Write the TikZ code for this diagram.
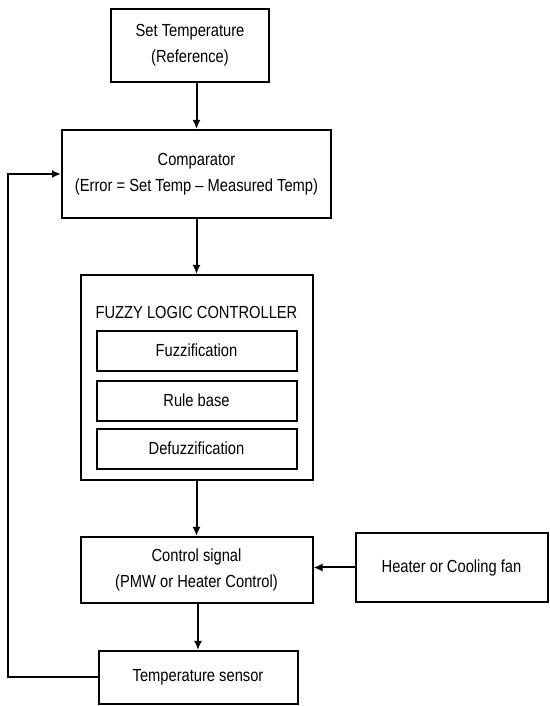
\documentclass[tikz,border=0pt]{standalone}
\usepackage{fontspec}
\setmainfont[FakeStretch=0.84]{Liberation Sans}
\usetikzlibrary{positioning, arrows.meta}

\begin{document}
\begin{tikzpicture}[
        x=1pt, y=1pt,
        font=\fontsize{17.5}{26}\selectfont,
        box/.style={draw, line width=2pt, align=center, inner sep=0pt},
        subbox/.style={box, minimum width=200pt, minimum height=40pt},
        arrow/.style={draw, line width=2pt, -{Latex[length=9pt, width=8pt]}}
    ]
    \useasboundingbox (0,0) rectangle (549,706);

    % Hauptkette
    \node (settemp) [box, minimum width=158pt, minimum height=73pt] at (190,660.5) {Set Temperature\\(Reference)};

    \node (comparator) [box, below=46pt of settemp, xshift=6.5pt, minimum width=269pt, minimum height=88pt] {Comparator\\(Error = Set Temp -- Measured Temp)};

    \node (flc) [box, below=55pt of comparator, minimum width=232pt, minimum height=205pt] {};
    \node (flctitle) [below=38pt of flc.north, anchor=center] {FUZZY LOGIC CONTROLLER};
    \node (fuzz) [subbox, below=8pt of flctitle] {Fuzzification};
    \node (rules) [subbox, below=8pt of fuzz] {Rule base};
    \node (defuzz) [subbox, below=6pt of rules] {Defuzzification};

    \node (control) [box, below=55pt of flc, minimum width=232pt, minimum height=66pt] {Control signal\\(PMW or Heater Control)};

    \node (heater) [box, right=41pt of control, yshift=2.5pt, minimum width=192pt, minimum height=69pt] {Heater or Cooling fan};

    \node (sensor) [box, below=46pt of control, xshift=1.5pt, minimum width=199pt, minimum height=53pt] {Temperature sensor};

    \coordinate (fbk) at (8,0);

    % Verbindungen
    \draw[arrow] (settemp.south -| comparator.north) -- (comparator.north);
    \draw[arrow] (comparator) -- (flc);
    \draw[arrow] (flc) -- (control);
    \draw[arrow] (control.south -| sensor.north) -- (sensor);
    \draw[arrow] (heater.west) -- (control.east |- heater.west);
    \draw[arrow] (sensor.west) -| (fbk |- comparator.west) -- (comparator.west);

    \end{tikzpicture}
\end{document}
